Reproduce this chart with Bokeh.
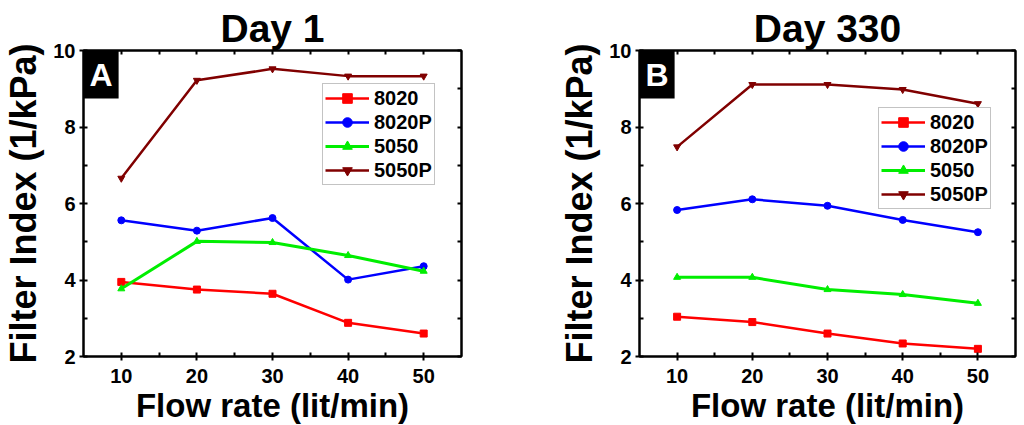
from bokeh.plotting import figure
from bokeh.layouts import row
from bokeh.models import Range1d, LinearAxis, Label, Legend, FixedTicker
from bokeh.embed import file_html
from bokeh.resources import INLINE

flow = [10, 20, 30, 40, 50]
series_names = ["8020", "8020P", "5050", "5050P"]

day1_8020 = [3.95, 3.75, 3.64, 2.88, 2.60]
day1_8020P = [5.56, 5.29, 5.62, 4.01, 4.36]
day1_5050 = [3.77, 5.01, 4.98, 4.64, 4.23]
day1_5050P = [6.66, 9.22, 9.52, 9.33, 9.33]

day330_8020 = [3.04, 2.90, 2.60, 2.34, 2.20]
day330_8020P = [5.83, 6.11, 5.94, 5.57, 5.25]
day330_5050 = [4.07, 4.07, 3.75, 3.62, 3.39]
day330_5050P = [7.48, 9.11, 9.11, 8.98, 8.61]

x_ticks = [10, 20, 30, 40, 50]
x_minor = [15, 25, 35, 45]
y_ticks = [2, 4, 6, 8, 10]
y_minor = [3, 5, 7, 9]

colors = ["#ff0000", "#0000ff", "#00ee00", "#800000"]
markers = ["square", "circle", "triangle", "inverted_triangle"]
FONT = "Liberation Sans"


def make_panel(title, letter, data, min_left, min_right, fw, legend_loc):
    p = figure(frame_width=fw, frame_height=306, output_backend="svg", toolbar_location=None,
               x_range=Range1d(5, 55), y_range=Range1d(2, 10),
               min_border_left=min_left, min_border_right=min_right,
               min_border_top=50, min_border_bottom=58)
    p.title.text = title
    p.title.align = "center"
    p.title.text_font = FONT
    p.title.text_font_size = "39px"
    p.title.text_font_style = "bold"
    p.title.text_color = "black"
    p.title.text_line_height = 1.0
    p.title.standoff = 2
    p.title.offset = 0
    p.grid.visible = False
    p.outline_line_color = "black"
    p.outline_line_width = 2
    p.background_fill_color = "white"
    p.border_fill_color = "white"

    items = []
    for name, vals, c, m in zip(series_names, data, colors, markers):
        lw = 3 if name == "5050" else 2.5
        r1 = p.line(flow, vals, line_color=c, line_width=lw)
        r2 = p.scatter(flow, vals, marker=m, size=7, fill_color=c, line_color=c)
        items.append((name, [r1, r2]))
    leg = Legend(items=items, location=legend_loc)
    leg.label_text_font = FONT
    leg.label_text_font_size = "20px"
    leg.label_text_font_style = "bold"
    leg.label_text_color = "black"
    leg.glyph_width = 44
    leg.glyph_height = 24
    leg.label_height = 24
    leg.label_standoff = 5
    leg.spacing = 0
    leg.padding = 2
    leg.margin = 0
    leg.border_line_color = "#888888"
    leg.border_line_width = 1.5
    leg.background_fill_alpha = 1
    p.add_layout(leg)

    for ax in (p.xaxis[0], p.yaxis[0]):
        ax.axis_line_width = 2
        ax.major_tick_line_width = 2
        ax.minor_tick_line_width = 2
        ax.major_tick_in = 4
        ax.major_tick_out = 4
        ax.minor_tick_in = 4
        ax.minor_tick_out = 0
        ax.major_label_text_font = FONT
        ax.major_label_text_font_size = "20px"
        ax.major_label_text_font_style = "bold"
        ax.major_label_text_color = "black"
        ax.major_label_text_line_height = 1.0
        ax.axis_label_text_font = FONT
        ax.axis_label_text_font_style = "bold"
        ax.axis_label_text_color = "black"
        ax.axis_label_text_line_height = 1.0
    p.xaxis.ticker = FixedTicker(ticks=x_ticks, minor_ticks=x_minor)
    p.yaxis.ticker = FixedTicker(ticks=y_ticks, minor_ticks=y_minor)
    p.xaxis.axis_label = "Flow rate (lit/min)"
    p.xaxis.axis_label_text_font_size = "33px"
    p.xaxis.major_label_standoff = 8
    p.xaxis.axis_label_standoff = 1
    p.yaxis.axis_label = "Filter Index (1/kPa)"
    p.yaxis.axis_label_text_font_size = "36px"
    p.yaxis.major_label_standoff = 4
    p.yaxis.axis_label_standoff = 6

    rax = LinearAxis(ticker=FixedTicker(ticks=y_ticks, minor_ticks=y_minor))
    tax = LinearAxis(ticker=FixedTicker(ticks=x_ticks, minor_ticks=x_minor))
    for ax in (rax, tax):
        ax.major_label_text_font_size = "0px"
        ax.major_label_standoff = 0
        ax.axis_line_width = 2
        ax.major_tick_line_width = 2
        ax.minor_tick_line_width = 2
        ax.major_tick_in = 4
        ax.major_tick_out = 0
        ax.minor_tick_in = 4
        ax.minor_tick_out = 0
        ax.major_label_overrides = {t: "" for t in (x_ticks + y_ticks)}
    p.add_layout(rax, "right")
    p.add_layout(tax, "above")

    lab = Label(x=5, y=10, text=letter, anchor="top_left",
                text_font=FONT, text_font_size="32px", text_font_style="bold",
                text_color="white", background_fill_color="black",
                padding=6)
    p.add_layout(lab)
    return p


p1 = make_panel("Day 1", "A", [day1_8020, day1_8020P, day1_5050, day1_5050P],
                76, 50, 378, (239, 171))
p2 = make_panel("Day 330", "B", [day330_8020, day330_8020P, day330_5050, day330_5050P],
                128, 2, 376, (239, 147))

layout = row(p1, p2, spacing=0)
open("out.html", "w").write(file_html(layout, INLINE))
